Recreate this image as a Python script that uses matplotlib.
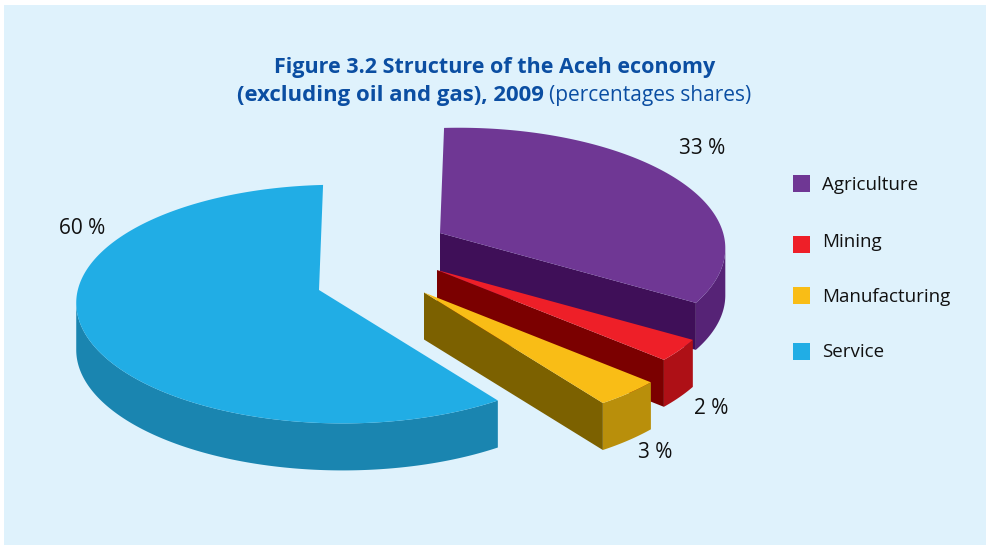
import numpy as np
import matplotlib
matplotlib.use('Agg')
import matplotlib.pyplot as plt
from matplotlib.patches import Polygon, Rectangle

categories = ['Agriculture', 'Mining', 'Manufacturing', 'Service']
value_labels = ['33 %', '2 %', '3 %', '60 %']
# slice sizes as drawn in the picture, which are not quite the rounded labels
drawn_shares = [33.4, 2.8, 3.5, 60.3]

top_colors = ['#6f3794', '#ee1f28', '#f9bd16', '#21ade5']
side_colors = ['#562376', '#ae1016', '#b98f0b', '#1a85b0']
cut_colors = ['#3f0f58', '#7b0000', '#7c6100', '#1a85b0']

# where each slice's point sits once exploded
apex_x = [440, 437, 424, 319]
apex_y = [233, 270, 292.5, 290]

depth = 47
start_angle = 89

plt.rcParams['font.family'] = ['Open Sans', 'DejaVu Sans']

fig = plt.figure(figsize=(9.86, 5.45), dpi=100, facecolor='white')
ax = fig.add_axes([0, 0, 1, 1])
ax.set_xlim(0, 986)
ax.set_ylim(545, 0)
ax.axis('off')
ax.add_patch(Rectangle((4, 5), 982, 540, fc='#dff2fc', ec='none'))


def project(theta, ax0, ay0):
    # tilted circle with a bit of perspective, so the front looks larger
    u = np.cos(theta)
    v = np.sin(theta)
    d = 1 - 0.08 * u + 0.1176 * v
    return ax0 + 260.5 * u / d, ay0 - 117.3 * v / d


angle = np.radians(start_angle)
for i, share in enumerate(drawn_shares):
    end = angle - np.radians(share * 3.6)
    t = np.linspace(angle, end, 400)
    x, y = project(t, apex_x[i], apex_y[i])
    ax0, ay0 = apex_x[i], apex_y[i]

    # outer wall, only the part facing the viewer (arc runs right to left there)
    front = np.gradient(x) < 0
    ax.add_patch(Polygon(np.r_[np.c_[x[front], y[front]], np.c_[x[front], y[front] + depth][::-1]],
                         fc=side_colors[i], ec='none'))
    # cut face on the clockwise edge
    if i < 3:
        ax.add_patch(Polygon([(ax0, ay0), (x[-1], y[-1]), (x[-1], y[-1] + depth), (ax0, ay0 + depth)],
                             fc=cut_colors[i], ec='none'))
    # top
    ax.add_patch(Polygon(np.r_[[[ax0, ay0]], np.c_[x, y]], fc=top_colors[i], ec='none'))
    angle = end

# slice labels
label_x = [702, 711, 655, 82]
label_y = [148, 408, 452, 228]
for i in range(4):
    ax.text(label_x[i], label_y[i], value_labels[i], fontsize=15, color='#111111', ha='center', va='center')

# legend
square_y = [175, 236, 287, 343]
text_y = [185, 242, 297, 352]
for i, name in enumerate(categories):
    ax.add_patch(Rectangle((793, square_y[i]), 17, 17, fc=top_colors[i], ec='none'))
    ax.text(822, text_y[i], name, fontsize=13.5, color='#111111', ha='left', va='center')

# title
title_color = '#0b4ea2'
ax.text(495, 67, 'Figure 3.2 Structure of the Aceh economy', fontsize=15.5, fontweight='bold',
        color=title_color, ha='center', va='center')
ax.text(544, 95, '(excluding oil and gas), 2009', fontsize=15.9, fontweight='bold',
        color=title_color, ha='right', va='center')
ax.text(549, 95, '(percentages shares)', fontsize=15, color=title_color, ha='left', va='center')

fig.savefig('out.png', dpi=100)
